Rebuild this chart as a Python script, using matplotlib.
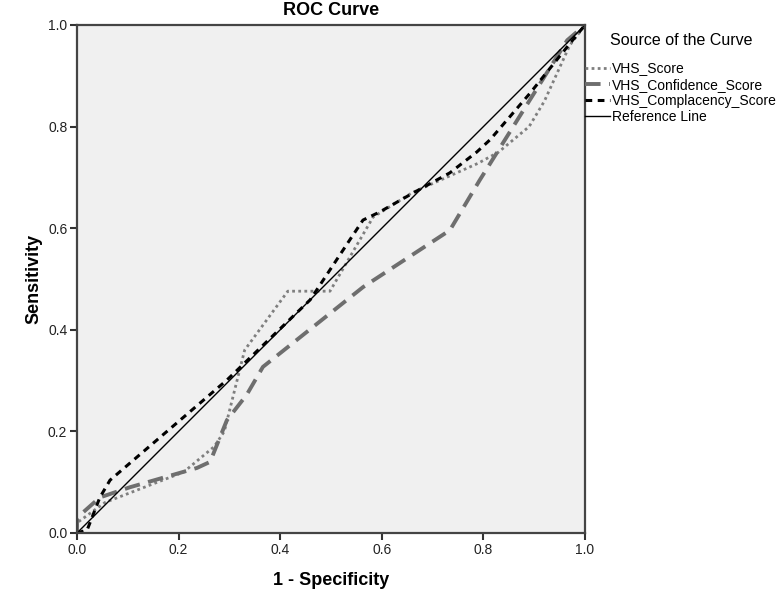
import matplotlib
matplotlib.use("Agg")
import matplotlib.pyplot as plt

plt.rcParams['font.family'] = ['Liberation Sans', 'DejaVu Sans']

# Data (1 - Specificity, Sensitivity)
vhs_score_x = [0.0, 0.0, 0.055, 0.21, 0.27, 0.29, 0.33, 0.415, 0.498, 0.583, 0.66, 0.79, 0.83, 0.89, 0.92, 0.97, 1.0]
vhs_score_y = [0.0, 0.02, 0.06, 0.12, 0.17, 0.20, 0.36, 0.476, 0.476, 0.622, 0.67, 0.728, 0.75, 0.80, 0.85, 0.96, 1.0]

conf_x = [0.0, 0.0, 0.045, 0.104, 0.236, 0.262, 0.295, 0.334, 0.366, 0.563, 0.734, 0.793, 0.965, 1.0]
conf_y = [0.0, 0.03, 0.07, 0.09, 0.128, 0.14, 0.222, 0.272, 0.327, 0.484, 0.596, 0.695, 0.97, 1.0]

compl_x = [0.0, 0.02, 0.045, 0.065, 0.295, 0.459, 0.537, 0.563, 0.596, 0.661, 0.734, 0.787, 0.813, 0.892, 0.965, 1.0]
compl_y = [0.0, 0.006, 0.07, 0.104, 0.301, 0.459, 0.577, 0.616, 0.632, 0.669, 0.709, 0.75, 0.774, 0.866, 0.957, 1.0]

ref_x = [0.0, 1.0]
ref_y = [0.0, 1.0]

labels = ["VHS_Score", "VHS_Confidence_Score", "VHS_Complacency_Score", "Reference Line"]
ticks = [0.0, 0.2, 0.4, 0.6, 0.8, 1.0]

fig = plt.figure(figsize=(7.81, 6.05), dpi=100)
ax = fig.add_axes([77/781, 1 - 533/605, (585-77)/781, (533-25)/605])
ax.set_facecolor('#f0f0f0')

ax.plot(vhs_score_x, vhs_score_y, color='#7f7f7f', lw=2, linestyle=(0, (1, 1.2)), label=labels[0])
ax.plot(conf_x, conf_y, color='#6e6e6e', lw=2.8, linestyle=(0, (4, 2.2)), label=labels[1])
ax.plot(compl_x, compl_y, color='black', lw=2.2, linestyle=(0, (2.2, 1.8)), label=labels[2])
ax.plot(ref_x, ref_y, color='black', lw=1, label=labels[3])

ax.set_xlim(0, 1)
ax.set_ylim(0, 1)
ax.set_xticks(ticks)
ax.set_yticks(ticks)
ax.set_xticklabels([f"{t:.1f}" for t in ticks])
ax.set_yticklabels([f"{t:.1f}" for t in ticks])
ax.tick_params(axis='both', direction='out', length=5, width=1.5, colors='#333333', labelsize=10, labelcolor='#222222', pad=2)
for s in ax.spines.values():
    s.set_color('#444444')
    s.set_linewidth(1.6)

ax.set_title("ROC Curve", fontsize=13, fontweight='bold', pad=7)
ax.set_xlabel("1 - Specificity", fontsize=13, fontweight='bold', labelpad=11)
ax.set_ylabel("Sensitivity", fontsize=13, fontweight='bold', labelpad=4)

leg = ax.legend(loc='upper left', bbox_to_anchor=(1.0, 0.985), frameon=False,
                title="Source of the Curve", title_fontsize=11.5, fontsize=10,
                handlelength=1.8, handletextpad=0.15, borderaxespad=0, borderpad=0,
                labelspacing=0.15)
leg._legend_box.sep = 10

fig.savefig("out.png", dpi=100, facecolor='white')
